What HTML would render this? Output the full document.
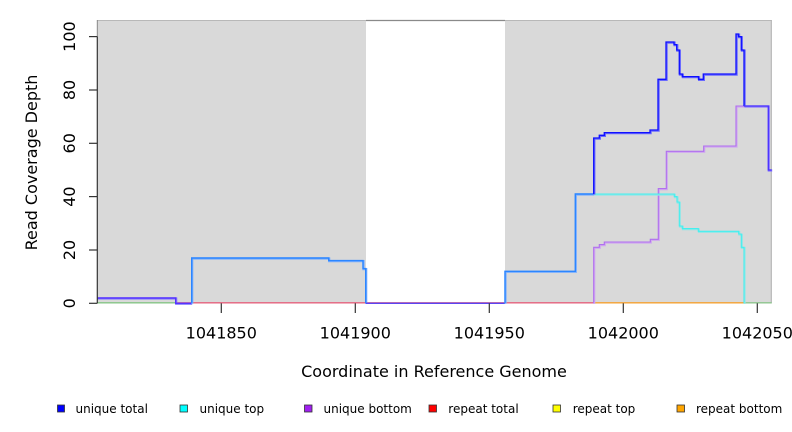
<!DOCTYPE html>
<html><head><meta charset="utf-8"><style>
html,body{margin:0;padding:0;background:#fff;}
svg{display:block;}
text{font-family:"DejaVu Sans","Liberation Sans",sans-serif;fill:#000;}
</style></head><body>
<svg width="792" height="432" viewBox="0 0 792 432" xmlns="http://www.w3.org/2000/svg">
<!-- plot background -->
<rect x="97" y="20" width="269" height="283.3" fill="#d9d9d9"/>
<rect x="505" y="20" width="266.7" height="283.3" fill="#d9d9d9"/>
<line x1="97" y1="20.5" x2="771.7" y2="20.5" stroke="#b8b8b8" stroke-width="1"/>
<line x1="366" y1="20.5" x2="505" y2="20.5" stroke="#8a8a8a" stroke-width="1.2"/>
<line x1="771.3" y1="20" x2="771.3" y2="303.3" stroke="#b0b0b0" stroke-width="1"/>
<line x1="97.3" y1="20" x2="97.3" y2="37" stroke="#888" stroke-width="1"/>

<!-- baselines (repeat series at 0) -->
<g fill="none" stroke-width="1.3">
<path d="M97,302.8 H176" stroke="#86c486"/>
<path d="M176,302.8 H594" stroke="#e4607c"/>
<path d="M594,302.8 H744" stroke="#f4a030"/>
<path d="M744,302.8 H771.7" stroke="#8cc48c"/>
</g>

<!-- unique bottom (purple) -->
<path d="M593.7,303.3 V247.3 H599.3 V244.6 H604.3 V242 H650.3 V239.3 H658.3 V188.6 H666.3 V151.3 H703.7 V146 H736 V106 H744" fill="none" stroke="#d0a8f0" stroke-width="2" transform="translate(0.6,0.6)"/>
<path d="M593.7,303.3 V247.3 H599.3 V244.6 H604.3 V242 H650.3 V239.3 H658.3 V188.6 H666.3 V151.3 H703.7 V146 H736 V106 H744" fill="none" stroke="#b070ee" stroke-width="1.1"/>

<!-- unique top (cyan) -->
<path d="M593.7,194 H674.3 V196.6 H677 V202 H679.3 V226 H682.3 V228.6 H698.3 V231.3 H738.7 V234 H741.3 V247.3 H744 V303.3" fill="none" stroke="#8ee8e8" stroke-width="2" transform="translate(0.6,0.6)"/>
<path d="M593.7,194 H674.3 V196.6 H677 V202 H679.3 V226 H682.3 V228.6 H698.3 V231.3 H738.7 V234 H741.3 V247.3 H744 V303.3" fill="none" stroke="#45eeee" stroke-width="1.1"/>

<!-- unique total (blue), in segments -->
<g fill="none" stroke-linejoin="miter">
<path d="M97,298 H175.7 V303.3 H191.7" stroke="#8a80ff" stroke-width="2.2" transform="translate(0.5,0.5)"/>
<path d="M97,298 H175.7 V303.3 H191.7" stroke="#5533ff" stroke-width="1.4"/>
<path d="M191.7,303.3 V258 H328.7 V260.6 H363 V268.6 H365.7 V303.3" stroke="#7aaeff" stroke-width="2.2" transform="translate(0.5,0.5)"/>
<path d="M191.7,303.3 V258 H328.7 V260.6 H363 V268.6 H365.7 V303.3" stroke="#2c86ff" stroke-width="1.4"/>
<path d="M365.7,303.3 H505" stroke="#5a44f2" stroke-width="1.4"/>
<path d="M505,303.3 V271.3 H575.3 V194 H593.7" stroke="#7aaeff" stroke-width="2.2" transform="translate(0.5,0.5)"/>
<path d="M505,303.3 V271.3 H575.3 V194 H593.7" stroke="#2c86ff" stroke-width="1.4"/>
<path d="M593.7,194 V138 H599.3 V135.3 H604.3 V132.6 H650 V130 H658 V79.3 H666 V42 H674 V44.6 H676.7 V50 H679.3 V74 H682.3 V76.6 H698.5 V79.3 H703.3 V74 H736 V34 H738.5 V36.6 H741.3 V50 H744 V106" stroke="#6a6aff" stroke-width="2.2" transform="translate(0.6,0.6)"/>
<path d="M593.7,194 V138 H599.3 V135.3 H604.3 V132.6 H650 V130 H658 V79.3 H666 V42 H674 V44.6 H676.7 V50 H679.3 V74 H682.3 V76.6 H698.5 V79.3 H703.3 V74 H736 V34 H738.5 V36.6 H741.3 V50 H744 V106" stroke="#1010ff" stroke-width="1.3"/>
<path d="M744,106 H768.3 V170 H771.7" stroke="#8a7aff" stroke-width="2.2" transform="translate(0.5,0.5)"/>
<path d="M744,106 H768.3 V170 H771.7" stroke="#4a30ff" stroke-width="1.3"/>
</g>

<!-- y axis -->
<g stroke="#333" stroke-width="1.2">
<line x1="97.3" y1="36.6" x2="97.3" y2="303.3"/>
<line x1="89" y1="303.3" x2="97.3" y2="303.3"/>
<line x1="89" y1="250" x2="97.3" y2="250"/>
<line x1="89" y1="196.6" x2="97.3" y2="196.6"/>
<line x1="89" y1="143.3" x2="97.3" y2="143.3"/>
<line x1="89" y1="90" x2="97.3" y2="90"/>
<line x1="89" y1="36.6" x2="97.3" y2="36.6"/>
</g>
<g font-size="16" text-anchor="middle">
<text transform="translate(75,303.3) rotate(-90)">0</text>
<text transform="translate(75,250) rotate(-90)">20</text>
<text transform="translate(75,196.6) rotate(-90)">40</text>
<text transform="translate(75,143.3) rotate(-90)">60</text>
<text transform="translate(75,90) rotate(-90)">80</text>
<text transform="translate(75,36.6) rotate(-90)">100</text>
<text transform="translate(37,162.5) rotate(-90)">Read Coverage Depth</text>
</g>

<!-- x axis ticks -->
<g stroke="#333" stroke-width="1.2">
<line x1="221.3" y1="303.3" x2="221.3" y2="313"/>
<line x1="355.3" y1="303.3" x2="355.3" y2="313"/>
<line x1="489.3" y1="303.3" x2="489.3" y2="313"/>
<line x1="623.3" y1="303.3" x2="623.3" y2="313"/>
<line x1="757.3" y1="303.3" x2="757.3" y2="313"/>
</g>
<g font-size="16" text-anchor="middle">
<text x="221.3" y="338.5">1041850</text>
<text x="355.3" y="338.5">1041900</text>
<text x="489.3" y="338.5">1041950</text>
<text x="623.3" y="338.5">1042000</text>
<text x="757.3" y="338.5">1042050</text>
<text x="434" y="377">Coordinate in Reference Genome</text>
</g>

<!-- legend -->
<g stroke="#333" stroke-width="0.8">
<rect x="57.5" y="405" width="7" height="7" fill="#0000ff"/>
<rect x="180" y="405" width="7.5" height="7" fill="#00ffff"/>
<rect x="304.5" y="405" width="7.5" height="7" fill="#a020f0"/>
<rect x="429" y="405" width="7.5" height="7" fill="#ff0000"/>
<rect x="553" y="405" width="7.5" height="7" fill="#ffff00"/>
<rect x="677" y="405" width="7.5" height="7" fill="#ffa500"/>
</g>
<g font-size="12">
<text x="75.5" y="413">unique total</text>
<text x="199.5" y="413">unique top</text>
<text x="323.5" y="413">unique bottom</text>
<text x="448.3" y="413">repeat total</text>
<text x="572.7" y="413">repeat top</text>
<text x="696" y="413">repeat bottom</text>
</g>
</svg>
</body></html>
